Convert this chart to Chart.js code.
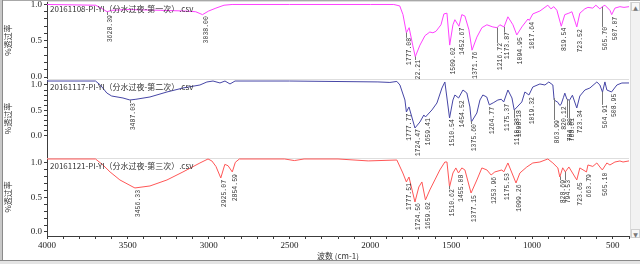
<!DOCTYPE html>
<html>
<head>
<meta charset="utf-8">
<script src="https://cdn.jsdelivr.net/npm/chart.js@4.4.1/dist/chart.umd.min.js"></script>
<style>
  html, body { margin: 0; padding: 0; background: #fff; }
  #wrap { position: relative; width: 640px; height: 264px; overflow: hidden; background: #fff; }
  #ir { position: absolute; left: 0; top: 0; }
  .edgeL { position: absolute; left: 0; top: 0; width: 2px; height: 264px; background: #c8c8c8; border-right: 1px solid #8a8a8a; }
  .edgeT { position: absolute; left: 0; top: 0; width: 640px; height: 1px; background: #a8a8a8; }
  .edgeB { position: absolute; left: 0; top: 260px; width: 640px; height: 4px; background: #e4e4e4; border-top: 1px solid #8a8a8a; }
  .sbar { position: absolute; left: 630px; top: 2px; width: 9px; height: 236px; background: #f2f2f2; border-left: 1px solid #dcdcdc; }
  .sbtn { position: absolute; left: 0; width: 9px; height: 9px; font: 6px "DejaVu Sans"; color: #777; text-align: center; line-height: 9px; border: 1px solid #d0d0d0; box-sizing: border-box; background: #f8f8f8; }
</style>
</head>
<body>
<div id="wrap">
  <canvas id="ir" width="640" height="264"></canvas>
  <div class="edgeT"></div>
  <div class="edgeL"></div>
  <div class="edgeB"></div>
  <div class="sbar"><div class="sbtn" style="top:0">▲</div><div class="sbtn" style="bottom:0">▼</div></div>
</div>
<script>
// spectrum 1 (top, pink)
const wn1 = [4000,3700,3665,3628,3600,3500,3300,3150,3080,3038,3000,2955,2905,2855,2500,2000,1855,1818,1798,1777,1760,1738,1722,1693,1662,1632,1613,1594,1563,1545,1526,1509,1489,1477,1452,1434,1415,1390,1371,1341,1310,1279,1242,1216,1199,1173,1149,1118,1094,1063,1025,1017,995,951,902,883,865,846,819,797,772,753,723,704,673,654,624,605,580,565,549,518,507,487,456,431,400];
const t1 = [1.0,0.99,0.95,0.90,0.92,0.93,0.92,0.91,0.90,0.86,0.91,0.95,0.99,1.0,1.0,1.0,1.0,0.98,0.86,0.61,0.68,0.44,0.28,0.44,0.57,0.62,0.61,0.63,0.72,0.87,0.88,0.44,0.72,0.79,0.70,0.86,0.84,0.65,0.37,0.55,0.68,0.72,0.69,0.68,0.72,0.69,0.83,0.72,0.58,0.69,0.80,0.78,0.87,0.91,0.99,0.94,0.97,0.92,0.70,0.86,0.88,0.90,0.69,0.88,0.94,0.96,0.95,0.99,0.94,0.97,0.99,0.92,0.86,0.95,0.97,0.96,0.97];
const peaks1 = [3628.39,3038.00,1777.08,1722.21,1509.02,1452.67,1371.76,1216.72,1173.87,1094.95,1017.64,819.54,723.52,565.70,507.07];
const peakT1 = [0.855,0.84,0.54,0.235,0.41,0.68,0.35,0.47,0.62,0.55,0.76,0.68,0.66,0.69,0.83];

// spectrum 2 (middle, blue)
const wn2 = [4000,3700,3670,3630,3600,3530,3487,3450,3363,3258,3159,3054,3011,2973,2930,2899,2868,2837,2500,1953,1879,1836,1817,1786,1777,1761,1724,1693,1669,1659,1619,1588,1557,1539,1510,1489,1477,1454,1427,1403,1384,1375,1341,1322,1304,1280,1264,1240,1211,1190,1175,1149,1124,1110,1098,1063,1044,1019,995,951,920,896,871,863,840,828,820,805,797,784,768,750,723,704,673,642,599,580,564,549,537,508,475,444,400];
const t2 = [1.078,1.078,1.0,0.843,0.784,0.745,0.706,0.72,0.765,0.863,0.941,1.0,1.059,1.078,1.04,1.078,1.02,1.078,1.078,1.06,1.05,1.07,1.0,0.706,0.471,0.569,0.157,0.275,0.412,0.373,0.51,0.647,0.941,1.059,0.353,0.706,0.804,0.745,0.902,0.843,0.569,0.275,0.451,0.706,0.804,0.765,0.61,0.65,0.706,0.72,0.667,0.902,0.745,0.51,0.549,0.667,0.863,0.804,0.961,1.02,1.0,1.059,1.0,0.706,0.66,0.60,0.62,0.76,0.84,0.72,0.70,0.80,0.549,0.784,0.902,0.941,1.059,1.0,0.86,1.06,0.902,0.863,1.0,1.039,1.04];
const peaks2 = [3487.03,1777.77,1724.47,1659.41,1510.54,1454.52,1375.60,1264.77,1175.37,1110.38,1098.18,1019.32,863.99,820.12,784.80,768.61,723.34,564.91,508.95];
const peakT2 = [0.647,0.44,0.137,0.35,0.33,0.70,0.235,0.57,0.63,0.353,0.51,0.765,0.314,0.58,0.353,0.353,0.51,0.61,0.83];

// spectrum 3 (bottom, red)
const wn3 = [4000,3700,3654,3610,3549,3468,3456,3363,3258,3159,3054,3004,2980,2955,2925,2900,2880,2854,2835,2810,2530,2470,2410,2200,2013,1836,1799,1777,1761,1724,1700,1681,1659,1632,1601,1570,1539,1526,1510,1489,1471,1455,1434,1415,1377,1341,1310,1279,1253,1230,1186,1175,1149,1099,1075,1032,995,951,902,871,840,828,810,794,772,723,704,663,654,624,599,580,565,537,518,487,456,437,400];
const t3 = [1.058,1.058,0.971,0.870,0.754,0.652,0.638,0.667,0.754,0.870,1.0,1.058,1.029,0.95,0.783,0.98,0.96,0.87,1.01,1.058,1.058,1.035,1.058,1.058,1.03,1.043,0.855,0.725,0.797,0.435,0.652,0.725,0.464,0.609,0.754,0.899,1.014,1.014,0.652,0.855,0.928,0.855,0.928,0.899,0.565,0.754,0.928,0.899,0.826,0.870,0.899,0.87,1.0,0.71,0.855,0.942,1.0,1.014,1.058,1.0,0.928,0.797,0.93,0.87,0.942,0.754,0.928,0.87,0.971,0.95,1.0,0.942,0.899,1.0,0.971,1.014,1.029,1.014,1.03];
const peaks3 = [3456.33,2925.07,2854.59,1777.51,1724.56,1659.02,1510.62,1455.08,1377.15,1253.96,1175.53,1099.26,828.69,794.53,723.65,663.79,565.10];
const peakT3 = [0.61,0.754,0.84,0.71,0.42,0.435,0.62,0.83,0.536,0.80,0.855,0.69,0.754,0.754,0.72,0.84,0.86];

const fileNames = ['20161108-PI-YI（分水过夜-第一次）.csv', '20161117-PI-YI（分水过夜-第二次）.csv', '20161121-PI-YI（分水过夜-第三次）.csv'];
const xTickLabels = [4000, 3500, 3000, 2500, 2000, 1500, 1000, 500];
const yTickLabels = [0.0, 0.5, 1.0];

const colors = ['#ff40ff', '#4646a6', '#ff5656'];
const panels = [
  { wn: wn1, t: t1, peaks: peaks1, peakT: peakT1, min: -0.032, max: 1.048 },
  { wn: wn2, t: t2, peaks: peaks2, peakT: peakT2, min: -0.425, max: 1.111 },
  { wn: wn3, t: t3, peaks: peaks3, peakT: peakT3, min: -0.058, max: 1.077 }
];

function valueAt(xs, ys, x) {
  for (let i = 0; i < xs.length - 1; i++) {
    if ((xs[i] - x) * (xs[i + 1] - x) <= 0) {
      const f = (x - xs[i]) / (xs[i + 1] - xs[i]);
      return ys[i] + f * (ys[i + 1] - ys[i]);
    }
  }
  return ys[ys.length - 1];
}

const axisColor = '#3c3c3c';
const tickFont = { family: 'Liberation Serif', size: 9 };
const cjkFont = { family: 'Noto Sans CJK SC', size: 8 };

function yAxis(p) {
  return {
    type: 'linear', position: 'left', stack: 'panels', stackWeight: 1, offset: false,
    min: p.min, max: p.max,
    afterFit: s => { s.width = 47; s.paddingTop = 0; s.paddingBottom = 0; },
    afterBuildTicks: s => {
      const ticks = [];
      for (let i = 0; i <= 10; i++) ticks.push({ value: i / 10 });
      s.ticks = ticks;
    },
    ticks: {
      autoSkip: false, padding: 2, color: '#222', font: tickFont,
      callback: v => yTickLabels.some(l => Math.abs(l - v) < 1e-6) ? v.toFixed(1) : ''
    },
    grid: { display: true, drawOnChartArea: false, drawTicks: true, tickLength: 3, tickColor: axisColor },
    border: { display: true, color: axisColor, width: 1 },
    title: { display: true, text: '%透过率', color: '#333', font: cjkFont, padding: { top: 3, bottom: 0 } }
  };
}

const peakPlugin = {
  id: 'peaks',
  beforeDatasetsDraw(chart) {
    const ctx = chart.ctx, xs = chart.scales.x;
    ctx.save();
    ctx.strokeStyle = '#dedede';
    ctx.lineWidth = 1;
    ['y1', 'y2', 'y3'].forEach(id => {
      const ys = chart.scales[id];
      const y = Math.round(ys.top) + 0.5;
      ctx.beginPath(); ctx.moveTo(xs.left, y); ctx.lineTo(xs.right, y); ctx.stroke();
    });
    ctx.restore();
  },
  afterDatasetsDraw(chart) {
    const ctx = chart.ctx, xs = chart.scales.x;
    panels.forEach((p, i) => {
      const ys = chart.scales['y' + (i + 1)];
      ctx.save();
      ctx.beginPath();
      ctx.rect(xs.left + 1, ys.top + 1, xs.right - xs.left, ys.bottom - ys.top - 1);
      ctx.clip();
      ctx.fillStyle = '#333';
      ctx.font = '8px "Noto Sans CJK SC"';
      ctx.textBaseline = 'middle';
      ctx.textAlign = 'left';
      ctx.fillText(fileNames[i], xs.left + 3, ys.top + 8);
      ctx.font = '6.5px "Liberation Mono"';
      p.peaks.forEach((w, k) => {
        const px = Math.round(xs.getPixelForValue(w)) + 0.5;
        const yCurve = ys.getPixelForValue(valueAt(p.wn, p.t, w));
        const yLab = ys.getPixelForValue(p.peakT[k]);
        if (yLab - yCurve > 3) {
          ctx.strokeStyle = '#777';
          ctx.lineWidth = 1;
          ctx.beginPath(); ctx.moveTo(px, yCurve); ctx.lineTo(px, yLab); ctx.stroke();
        }
        ctx.save();
        ctx.translate(px, yLab);
        ctx.rotate(-Math.PI / 2);
        ctx.textAlign = 'right';
        ctx.textBaseline = 'top';
        ctx.fillStyle = '#333';
        ctx.fillText(w.toFixed(2), 0, 0);
        ctx.restore();
      });
      ctx.restore();
    });
  }
};

const datasets = panels.map((p, i) => ({
  label: fileNames[i],
  data: p.wn.map((w, k) => ({ x: w, y: p.t[k] })),
  yAxisID: 'y' + (i + 1),
  borderColor: colors[i],
  borderWidth: 1,
  pointRadius: 0,
  showLine: true,
  tension: 0,
  fill: false
}));

new Chart(document.getElementById('ir'), {
  type: 'scatter',
  data: { datasets },
  plugins: [peakPlugin],
  options: {
    responsive: false, animation: false, devicePixelRatio: 1,
    layout: { padding: { left: 0, right: 11, top: 1, bottom: 3 } },
    plugins: { legend: { display: false }, tooltip: { enabled: false } },
    scales: {
      x: {
        type: 'linear', position: 'bottom', reverse: true, min: 400, max: 4000,
        afterFit: s => { s.height = 25; s.paddingLeft = 0; s.paddingRight = 0; },
        afterBuildTicks: s => {
          const ticks = [];
          for (let v = 4000; v >= 400; v -= 100) ticks.push({ value: v });
          s.ticks = ticks;
        },
        ticks: {
          autoSkip: false, maxRotation: 0, padding: 1, color: '#222', font: tickFont,
          callback: v => xTickLabels.includes(v) ? String(v) : ''
        },
        grid: { display: true, drawOnChartArea: false, drawTicks: true, tickLength: 3, tickColor: axisColor },
        border: { display: true, color: axisColor, width: 1 },
        title: { display: true, text: '波数 (cm-1)', color: '#333', font: cjkFont, padding: { top: 0, bottom: 0 } }
      },
      y3: yAxis(panels[2]),
      y2: yAxis(panels[1]),
      y1: yAxis(panels[0])
    }
  }
});
</script>
</body>
</html>
